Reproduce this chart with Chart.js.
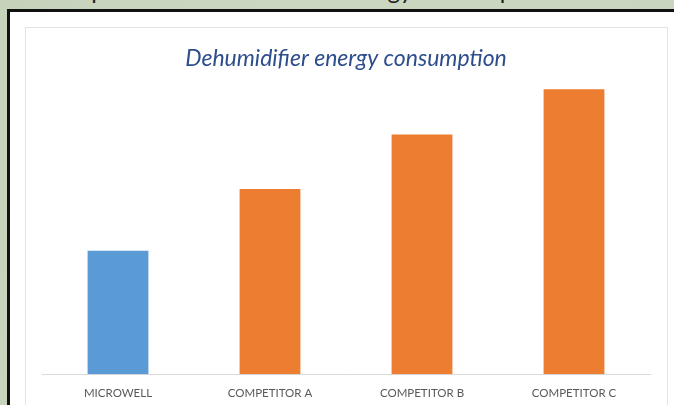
<!DOCTYPE html>
<html>
<head>
<meta charset="utf-8">
<script src="https://cdn.jsdelivr.net/npm/chart.js@4.4.0/dist/chart.umd.min.js"></script>
<style>
  html, body { margin: 0; padding: 0; width: 674px; height: 405px; overflow: hidden; }
  body { background: linear-gradient(100deg, #c6d3bb 0%, #ccd7c2 40%, #c9d5bf 100%); position: relative; }
  #slideTitle { position: absolute; left: 42px; top: -25px; font-family: Lato, sans-serif; font-size: 24px; color: #222; white-space: nowrap; }
  #panel { position: absolute; left: 7px; top: 9px; width: 700px; height: 420px; background: #fff; border-left: 3px solid #111; border-top: 3px solid #111; }
  #frame { position: absolute; left: 25px; top: 27px; width: 641px; height: 400px; border: 1px solid #e3e3e3; background: #fff; }
  #wrap { position: absolute; left: 26px; top: 28px; width: 640px; height: 390px; }
</style>
</head>
<body>
<div id="slideTitle">Comparison of dehumidifier energy consumption</div>
<div id="panel"></div>
<div id="frame"></div>
<div id="wrap"><canvas id="energy-chart"></canvas></div>
<script>
const categories = ['MICROWELL', 'COMPETITOR A', 'COMPETITOR B', 'COMPETITOR C'];
const consumption = [2.6, 3.9, 5.05, 6.0];
const barColours = ['#5b9bd5', '#ed7d31', '#ed7d31', '#ed7d31'];

let ctx = document.getElementById('energy-chart').getContext('2d');

let energyChart = new Chart(ctx, {
    type: 'bar',
    data: {
        labels: categories,
        datasets: [{
            label: 'Energy consumption',
            data: consumption,
            backgroundColor: barColours,
            barPercentage: 0.4,
            categoryPercentage: 1.0
        }]
    },
    options: {
        responsive: true,
        maintainAspectRatio: false,
        animation: false,
        layout: {
            padding: { left: 16, right: 16, top: 0, bottom: 6 }
        },
        plugins: {
            legend: { display: false },
            tooltip: { enabled: false },
            title: {
                display: true,
                text: 'Dehumidifier energy consumption',
                color: '#2e4d8c',
                font: { family: 'Lato', size: 23, style: 'italic', weight: 'normal' },
                padding: { top: 17, bottom: 12 }
            }
        },
        scales: {
            x: {
                grid: { display: false, drawTicks: false },
                border: { display: true, color: '#d9d9d9', width: 1 },
                ticks: {
                    color: '#595959',
                    font: { family: 'Lato', size: 11.5 },
                    padding: 12
                }
            },
            y: {
                display: false,
                min: 0,
                max: 6.1
            }
        }
    }
});
</script>
</body>
</html>
